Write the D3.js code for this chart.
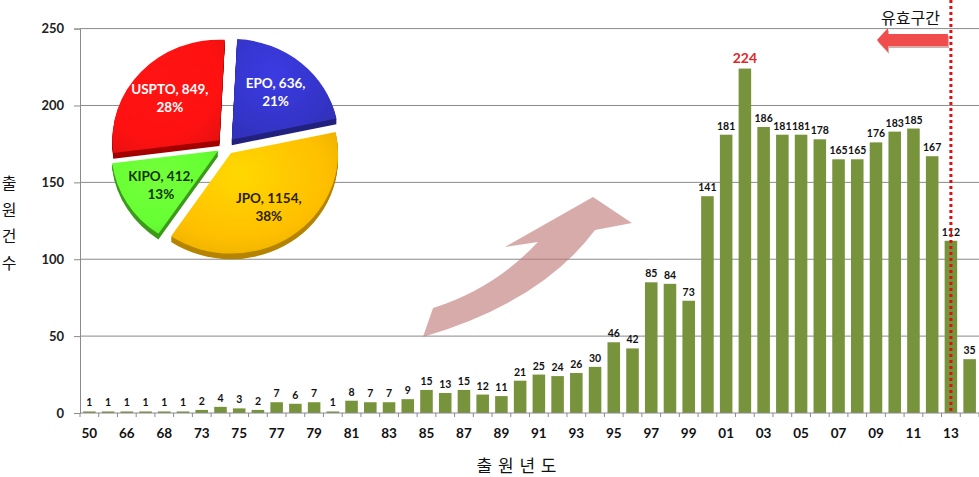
<!DOCTYPE html>
<html><head><meta charset="utf-8">
<script src="https://cdn.jsdelivr.net/npm/d3@7"></script>
<style>body{margin:0;background:#fff}svg{display:block}</style>
</head><body>
<script>
const categories = ["50","64","66","67","68","71","73","74","75","76","77","78","79","80","81","82","83","84","85","86","87","88","89","90","91","92","93","94","95","96","97","98","99","00","01","02","03","04","05","06","07","08","09","10","11","12","13","14"];
const counts = [1,1,1,1,1,1,2,4,3,2,7,6,7,1,8,7,7,9,15,13,15,12,11,21,25,24,26,30,46,42,85,84,73,141,181,224,186,181,181,178,165,165,176,183,185,167,112,35];
const yTicks = [0,50,100,150,200,250];
const peakCategory = "02";
const validCategory = "13";
const pieOffices = ["EPO","JPO","KIPO","USPTO"];
const pieCounts = [636,1154,412,849];
const piePercents = ["21%","38%","13%","28%"];
const pieColors = ["#3434c8","#ffbf00","#66ff33","#ff1111"];
const pieDark = ["#22227e","#b58400","#3c9a1a","#a30000"];
const pieText = ["#ffffff","#2b1f00","#123300","#ffffff"];

const W = 979, H = 477;
const svg = d3.select("body").append("svg").attr("width", W).attr("height", H);
const L = 80, R = 979, T = 28.6, B = 413;

const x = d3.scaleBand().domain(categories).range([L, R]).paddingInner(0.33).paddingOuter(0.165);
const xi = d3.scaleLinear().domain([0, categories.length]).range([L, R]); // continuous index space
const y = d3.scaleLinear().domain([0, 250]).range([B, T]);

// gridlines
svg.append("g").selectAll("line").data(yTicks.filter(d => d > 0)).join("line")
  .attr("x1", L).attr("x2", R).attr("y1", d => y(d)).attr("y2", d => y(d))
  .attr("stroke", "#8a8a8a").attr("stroke-width", 1);

// y axis
const yAxis = svg.append("g").attr("transform", `translate(${L},0)`)
  .call(d3.axisLeft(y).tickValues(yTicks).tickSize(6).tickPadding(10));
yAxis.select(".domain").attr("stroke", "#8a8a8a");
yAxis.selectAll(".tick line").attr("stroke", "#8a8a8a");
yAxis.selectAll("text").attr("font-family", "Lato, 'Open Sans', sans-serif").attr("font-weight", "bold")
  .attr("font-size", 13).attr("fill", "#222");

// big curved arrow (annotation), defined in index/value space
const ap = (i, v) => [xi(i), y(v)];
const a = {
  tailLow: ap(18.31, 49.4), tailUp: ap(18.85, 68.3), ctrlUp: ap(22.13, 81),
  neckUp: ap(24.45, 111.2), headL: ap(22.69, 108), tip: ap(27.39, 140.5),
  headR: ap(29.47, 123.6), neckLow: ap(27.5, 119), ctrlLow: ap(24.61, 71.9)
};
const ap2 = d3.path();
ap2.moveTo(...a.tailLow);
ap2.lineTo(...a.tailUp);
ap2.quadraticCurveTo(...a.ctrlUp, ...a.neckUp);
ap2.lineTo(...a.headL);
ap2.lineTo(...a.tip);
ap2.lineTo(...a.headR);
ap2.lineTo(...a.neckLow);
ap2.quadraticCurveTo(...a.ctrlLow, ...a.tailLow);
ap2.closePath();
svg.append("path").attr("d", ap2.toString()).attr("fill", "#c07878").attr("opacity", 0.62);

// bars
svg.append("g").selectAll("rect").data(counts).join("rect")
  .attr("x", (d, i) => x(categories[i])).attr("width", x.bandwidth())
  .attr("y", d => y(d)).attr("height", d => B - y(d))
  .attr("fill", "#77933c");

// bar labels
svg.append("g").selectAll("text").data(counts).join("text")
  .attr("x", (d, i) => x(categories[i]) + x.bandwidth() / 2)
  .attr("y", (d, i) => y(d) - (categories[i] === peakCategory ? 6 : 5))
  .attr("text-anchor", "middle")
  .attr("font-family", "Lato, 'Open Sans', sans-serif").attr("font-weight", "bold")
  .attr("font-size", (d, i) => categories[i] === peakCategory ? 14 : 10.5)
  .attr("fill", (d, i) => categories[i] === peakCategory ? "#e02828" : "#111")
  .text(d => d);

// x axis
svg.append("line").attr("x1", L).attr("x2", R).attr("y1", B).attr("y2", B).attr("stroke", "#8a8a8a");
svg.append("g").selectAll("line").data(d3.range(categories.length + 1)).join("line")
  .attr("x1", d => xi(d)).attr("x2", d => xi(d)).attr("y1", B).attr("y2", B + 4)
  .attr("stroke", "#8a8a8a");
svg.append("g").selectAll("text").data(categories.filter((c, i) => i % 2 === 0)).join("text")
  .attr("x", d => x(d) + x.bandwidth() / 2).attr("y", 438)
  .attr("text-anchor", "middle")
  .attr("font-family", "Lato, 'Open Sans', sans-serif").attr("font-weight", "bold")
  .attr("font-size", 13.5).attr("fill", "#111").text(d => d);

// axis titles
svg.append("text").attr("x", 517).attr("y", 472).attr("text-anchor", "middle")
  .attr("font-family", "'Noto Sans CJK KR', sans-serif").attr("font-size", 17).attr("fill", "#111")
  .attr("letter-spacing", 1)
  .text("출 원 년 도");
const yTitle = ["출","원","건","수"];
svg.append("g").selectAll("text").data(yTitle).join("text")
  .attr("x", 9).attr("y", (d, i) => 189 + i * 26.5).attr("text-anchor", "middle")
  .attr("font-family", "'Noto Sans CJK KR', sans-serif").attr("font-size", 16).attr("fill", "#111")
  .text(d => d);

// valid-range dotted line
const vx = x(validCategory) + x.bandwidth() / 2;
svg.append("line").attr("x1", vx).attr("x2", vx).attr("y1", 0).attr("y2", B)
  .attr("stroke", "#e01010").attr("stroke-width", 3).attr("stroke-dasharray", "3,3");

// red left arrow + label
const ay = y(242.6);
const ax0 = xi(42.55), ax1 = xi(46.34), axn = xi(43.14);
const ra = d3.path();
ra.moveTo(ax1, ay - 6); ra.lineTo(axn, ay - 6); ra.lineTo(axn, ay - 12); ra.lineTo(ax0, ay);
ra.lineTo(axn, ay + 12); ra.lineTo(axn, ay + 6); ra.lineTo(ax1, ay + 6); ra.closePath();
svg.append("path").attr("d", ra.toString()).attr("fill", "#a02a2a").attr("transform", "translate(1,2)").attr("opacity", 0.4);
svg.append("path").attr("d", ra.toString()).attr("fill", "#f04c4c");
svg.append("text").attr("x", (ax0 + ax1) / 2 - 2).attr("y", 24).attr("text-anchor", "middle")
  .attr("font-family", "'Noto Sans CJK KR', sans-serif").attr("font-size", 16).attr("fill", "#111")
  .text("유효구간");

// pie
const cx = 226, cy = 146, r = 107, sy = 0.94, explode = 9, depth = 6;
const pie = d3.pie().sort(null).startAngle(0.05).endAngle(0.05 + 2 * Math.PI);
const arcs = pie(pieCounts);
const arc = d3.arc().innerRadius(0).outerRadius(r);
const pg = svg.append("g").attr("transform", `translate(${cx},${cy}) scale(1,${sy})`);
const off = d => { const m = (d.startAngle + d.endAngle) / 2; return [Math.sin(m) * explode, -Math.cos(m) * explode]; };
const defs = svg.append("defs");
pieColors.forEach((c, i) => {
  const g = defs.append("radialGradient").attr("id", "pg" + i).attr("cx", "40%").attr("cy", "35%").attr("r", "75%");
  g.append("stop").attr("offset", "0%").attr("stop-color", d3.color(c).brighter(0.35));
  g.append("stop").attr("offset", "70%").attr("stop-color", c);
  g.append("stop").attr("offset", "100%").attr("stop-color", d3.color(c).darker(0.25));
});
// depth layer
for (let k = depth; k >= 1; k--) {
  pg.append("g").selectAll("path").data(arcs).join("path")
    .attr("transform", d => { const o = off(d); return `translate(${o[0]},${o[1] + k})`; })
    .attr("d", arc).attr("fill", (d, i) => pieDark[i]);
}
pg.append("g").selectAll("path").data(arcs).join("path")
  .attr("transform", d => { const o = off(d); return `translate(${o[0]},${o[1]})`; })
  .attr("d", arc).attr("fill", (d, i) => `url(#pg${i})`);

const lab = d3.arc().innerRadius(72).outerRadius(72);
const lg = svg.append("g");
arcs.forEach((d, i) => {
  const c = lab.centroid(d), o = off(d);
  const px = cx + c[0] + o[0] * 0.5, py = cy + (c[1] + o[1] * 0.5) * sy;
  const t = lg.append("text").attr("text-anchor", "middle")
    .attr("font-family", "Lato, 'Open Sans', sans-serif").attr("font-weight", "bold")
    .attr("font-size", 13.5).attr("fill", pieText[i]);
  t.append("tspan").attr("x", px).attr("y", py - 3).text(`${pieOffices[i]}, ${pieCounts[i]},`);
  t.append("tspan").attr("x", px).attr("y", py + 15).text(piePercents[i]);
});
</script>
</body></html>
